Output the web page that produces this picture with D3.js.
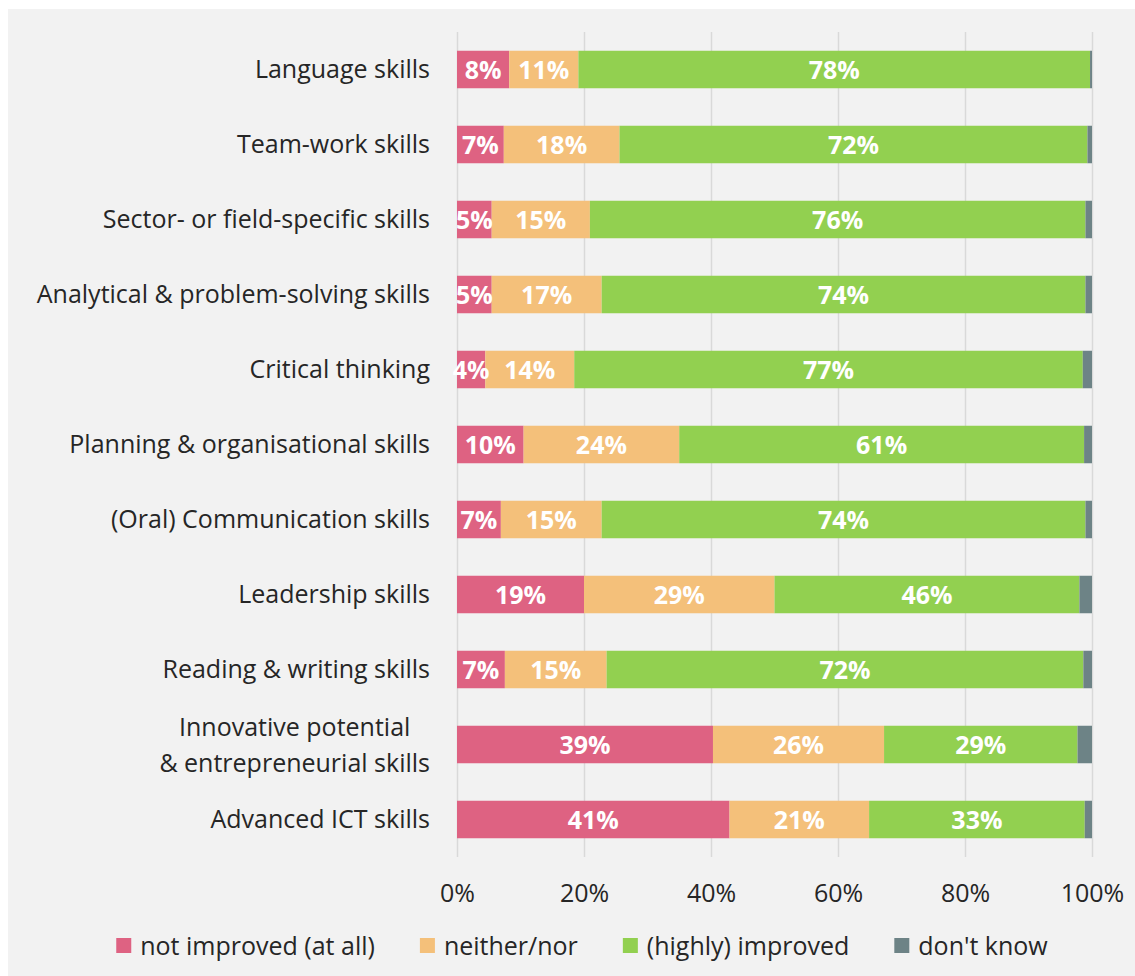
<!DOCTYPE html>
<html>
<head>
<meta charset="utf-8">
<script src="https://cdn.jsdelivr.net/npm/d3@7"></script>
<style>
  body { margin: 0; background: #ffffff; }
  svg { display: block; font-family: "Open Sans", "Noto Sans", sans-serif; }
</style>
</head>
<body>
<script>
// ----- DATA -----
const categories = [
  "Language skills",
  "Team-work skills",
  "Sector- or field-specific skills",
  "Analytical & problem-solving skills",
  "Critical thinking",
  "Planning & organisational skills",
  "(Oral) Communication skills",
  "Leadership skills",
  "Reading & writing skills",
  "Innovative potential\n& entrepreneurial skills",
  "Advanced ICT skills"
];
const notImproved = [8.0, 7.2, 5.3, 5.3, 4.3, 10.1, 6.7, 19.2, 7.2, 38.9, 41.2];
const neitherNor  = [10.6, 17.8, 15.0, 16.8, 13.5, 23.6, 15.4, 28.8, 15.3, 26.0, 21.1];
const improved    = [78.4, 72.0, 75.7, 73.9, 77.2, 61.4, 73.9, 46.1, 71.7, 29.4, 32.6];
const dontKnow    = [0.3, 0.7, 1.0, 1.0, 1.4, 1.2, 1.0, 1.9, 1.3, 2.2, 1.1];

const seriesKeys = ["not improved (at all)", "neither/nor", "(highly) improved", "don't know"];
const seriesColors = ["#de6282", "#f4c07a", "#92d050", "#6d8386"];
const xTicks = [0, 0.2, 0.4, 0.6, 0.8, 1];

// table built for d3.stack
const rows = categories.map((c, i) => ({
  cat: c,
  [seriesKeys[0]]: notImproved[i],
  [seriesKeys[1]]: neitherNor[i],
  [seriesKeys[2]]: improved[i],
  [seriesKeys[3]]: dontKnow[i]
}));

const w = 1135, h = 976;
const plot = { left: 457, right: 1092, top: 32, bottom: 857 };

const svg = d3.select("body").append("svg")
  .attr("width", w)
  .attr("height", h);

// chart background
svg.append("rect")
  .attr("x", 8).attr("y", 9)
  .attr("width", w - 8).attr("height", h - 9)
  .attr("fill", "#f2f2f2");

// ----- SCALES -----
const xScale = d3.scaleLinear().domain([0, 1]).range([plot.left, plot.right]);
const yScale = d3.scaleBand().domain(categories)
  .range([plot.top, plot.bottom])
  .paddingInner(0.5).paddingOuter(0.25);
const color = d3.scaleOrdinal().domain(seriesKeys).range(seriesColors);

// ----- GRID -----
const grid = svg.append("g")
  .attr("transform", "translate(0," + plot.bottom + ")")
  .call(d3.axisBottom(xScale).tickValues(xTicks)
    .tickSize(-(plot.bottom - plot.top)).tickFormat(""));
grid.select(".domain").remove();
grid.selectAll("line").attr("stroke", "#d9d9d9").attr("stroke-width", 1.5);

// ----- BARS -----
const stacked = d3.stack().keys(seriesKeys).offset(d3.stackOffsetExpand)(rows);

const layer = svg.selectAll("g.layer")
  .data(stacked)
  .enter().append("g")
  .attr("class", "layer")
  .attr("fill", d => color(d.key));

layer.selectAll("rect")
  .data(d => d)
  .enter().append("rect")
  .attr("x", d => xScale(d[0]))
  .attr("y", d => yScale(d.data.cat))
  .attr("width", d => xScale(d[1]) - xScale(d[0]))
  .attr("height", yScale.bandwidth());

// value labels (no label on "don't know")
stacked.slice(0, 3).forEach(s => {
  svg.append("g").selectAll("text")
    .data(s)
    .enter().append("text")
    .attr("x", d => (xScale(d[0]) + xScale(d[1])) / 2)
    .attr("y", d => yScale(d.data.cat) + yScale.bandwidth() / 2)
    .attr("dy", "0.37em")
    .attr("text-anchor", "middle")
    .attr("fill", "#ffffff")
    .style("font-size", "25px")
    .style("font-weight", "700")
    .text(d => Math.round(d.data[s.key]) + "%");
});

// ----- AXES -----
const xAxis = svg.append("g")
  .attr("transform", "translate(0," + plot.bottom + ")")
  .call(d3.axisBottom(xScale).tickValues(xTicks).tickSize(0).tickPadding(27)
    .tickFormat(d3.format(".0%")));
xAxis.select(".domain").remove();
xAxis.selectAll("text")
  .attr("fill", "#262626")
  .style("font-size", "25px")
  .style("font-family", "'Open Sans', sans-serif");

const yAxis = svg.append("g")
  .attr("transform", "translate(" + plot.left + ",0)")
  .call(d3.axisLeft(yScale).tickSize(0).tickPadding(27));
yAxis.select(".domain").remove();
yAxis.selectAll("text")
  .attr("fill", "#262626")
  .style("font-size", "25px")
  .style("font-family", "'Open Sans', sans-serif")
  .each(function (d) {
    const lines = d.split("\n");
    if (lines.length < 2) return;
    const t = d3.select(this).text("");
    const spans = lines.map((l, i) => t.append("tspan").text(l));
    const widths = spans.map(s => s.node().getComputedTextLength());
    const maxW = d3.max(widths);
    const xc = -27 - maxW / 2;
    t.attr("text-anchor", "middle").attr("dy", null);
    spans.forEach((s, i) => {
      s.attr("x", xc).attr("dy", i === 0 ? (0.36 - (lines.length - 1) * 0.72) + "em" : "1.44em");
    });
  });

// ----- LEGEND -----
const legend = svg.append("g").attr("id", "legend");
const legendY = 946;
const items = legend.selectAll("g")
  .data(seriesKeys)
  .enter().append("g");
items.append("rect")
  .attr("width", 15).attr("height", 15)
  .attr("y", legendY - 8)
  .attr("fill", d => color(d));
items.append("text")
  .attr("x", 24)
  .attr("y", legendY)
  .attr("dy", "0.36em")
  .attr("fill", "#262626")
  .style("font-size", "25px")
  .text(d => d);

let lx = 0;
const gap = 45;
items.each(function () {
  const g = d3.select(this);
  const tw = g.select("text").node().getComputedTextLength();
  g.attr("transform", "translate(" + lx + ",0)");
  lx += 24 + tw + gap;
});
const totalW = lx - gap;
legend.attr("transform", "translate(" + (582 - totalW / 2) + ",0)");
</script>
</body>
</html>
